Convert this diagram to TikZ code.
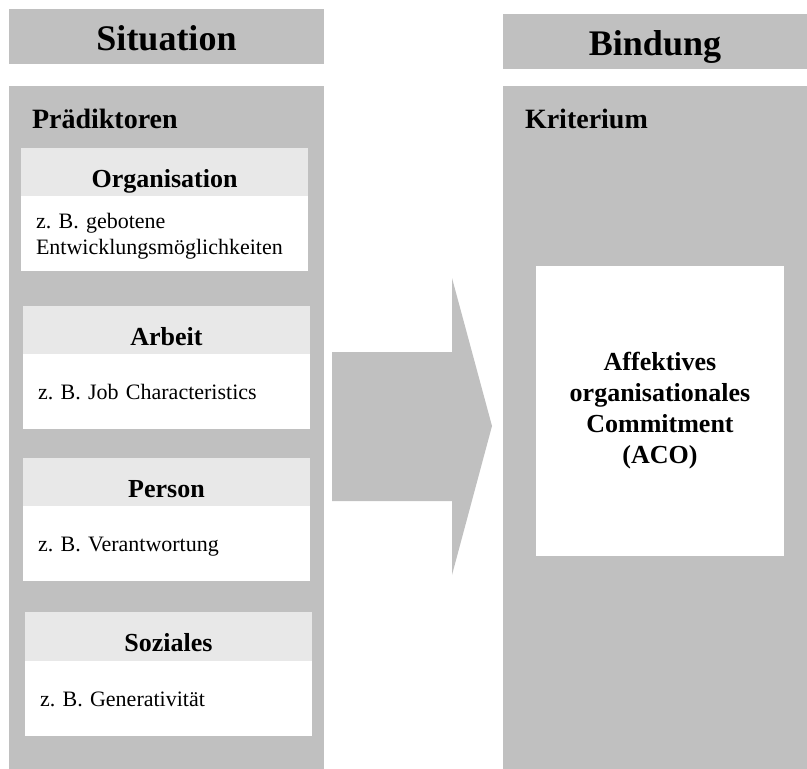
\documentclass[tikz,border=0pt]{standalone}
\usepackage{fontspec}
\setmainfont{Liberation Serif}
\usepackage{tikz}
\usetikzlibrary{positioning}

\definecolor{grau}{HTML}{C0C0C0}
\definecolor{hellgrau}{HTML}{E8E8E8}
\frenchspacing

\begin{document}
\begin{tikzpicture}[
    x=1pt, y=-1pt,
    every node/.style={inner sep=0pt, outer sep=0pt},
    kopf/.style={fill=grau, anchor=north west, minimum height=55pt, text height=27pt, text depth=0pt, font=\fontsize{36}{40}\selectfont\bfseries},
    spalte/.style={fill=grau, anchor=north west, minimum height=683pt},
    titel/.style={anchor=base west, font=\fontsize{28}{32}\selectfont\bfseries},
    kat/.style={fill=hellgrau, anchor=north west, minimum width=287pt, minimum height=48pt, text height=30pt, text depth=0pt, font=\fontsize{26}{30}\selectfont\bfseries},
    inhalt/.style={fill=white, anchor=north west, text width=257pt, inner xsep=15pt, minimum height=75pt, align=left, text height=15pt, text depth=0pt, font=\fontsize{22}{26}\selectfont}
]
    \useasboundingbox (0,0) rectangle (807,769);

    % Kopfzeilen
    \node[kopf, minimum width=315pt] at (9,9) (situation) {Situation};
    \node[kopf, minimum width=304pt] at (503,14) (bindung) {Bindung};

    % Spalten
    \node[spalte, minimum width=315pt] at (9,86) (links) {};
    \node[spalte, minimum width=304pt] at (503,86) (rechts) {};
    \node[titel] at (32,128) (praed) {Prädiktoren};
    \node[titel] at (525,128) (krit) {Kriterium};

    % Prädiktoren
    \node[kat] at (21,148) (org) {Organisation};
    \node[inhalt, below=0pt of org.south west, anchor=north west, text depth=26pt] (orgtext) {z. B. gebotene\\Entwicklungsmöglichkeiten};
    \node[kat] at (23,306) (arbeit) {Arbeit};
    \node[inhalt, below=0pt of arbeit.south west, anchor=north west] (arbeittext) {z. B. Job Characteristics};
    \node[kat] at (23,458) (person) {Person};
    \node[inhalt, below=0pt of person.south west, anchor=north west] (persontext) {z. B. Verantwortung};
    \node[kat, minimum height=49pt] at (25,612) (soz) {Soziales};
    \node[inhalt, below=0pt of soz.south west, anchor=north west] (soztext) {z. B. Generativität};

    % Pfeil
    \fill[grau] (332,352) -- (452,352) -- (452,278) -- (492,426) -- (452,575) -- (452,501) -- (332,501) -- cycle;

    % Kriterium
    \node[fill=white, anchor=north west, minimum width=248pt, minimum height=290pt, align=center, font=\fontsize{26}{31}\selectfont\bfseries] at (536,266) (aco) {Affektives\\organisationales\\Commitment\\(ACO)};
\end{tikzpicture}
\end{document}
